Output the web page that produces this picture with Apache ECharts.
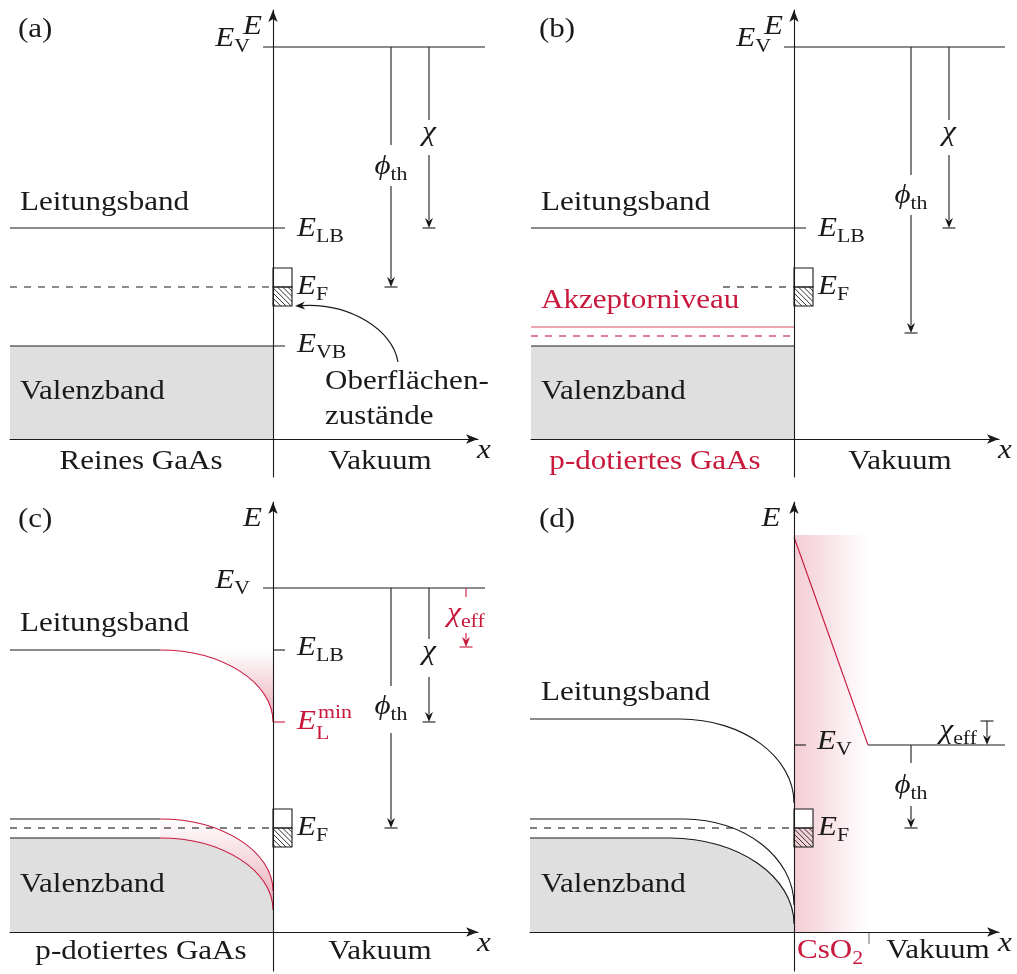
<!DOCTYPE html>
<html>
<head>
<meta charset="utf-8">
<script src="https://cdn.jsdelivr.net/npm/echarts@6/dist/echarts.min.js"></script>
<style>
  html, body { margin: 0; padding: 0; background: #fff; }
  #chart { width: 1017px; height: 974px; }
</style>
</head>
<body>
<div id="chart"></div>
<script>
// Band diagrams of a GaAs surface, four stages (a)-(d).
// x: position in arbitrary units, surface at x = 0 (bulk x < 0, vacuum x > 0).
// E: energy in arbitrary units, the x axis sits at E = 0.

// ---------- (a) pure GaAs ----------
const levelsA = [            // [x1, E1, x2, E2]
  [-1.0, 39.2, 21.2, 39.2],  // E_V
  [-26.3, 21.1, 1.2, 21.1],  // E_LB
  [-26.3, 15.2, 0, 15.2],    // E_F
  [-26.3, 9.3, 1.2, 9.3]     // E_VB
];
const levelKindsA = ['solid', 'solid', 'dash', 'solid'];
const valenceA = [-26.3, 9.3];          // [bulk edge x, band top E]
const fermiA = 15.2;
const arrowsA = [                        // [x, from E, to E]
  [11.8, 39.2, 15.2],                    // phi_th = E_V - E_F
  [15.6, 39.2, 21.1]                     // chi = E_V - E_LB
];
const statesArrowA = [[12.5, 7.7, 2.2, 13.3]];   // surface states -> box

// ---------- (b) p-doped GaAs ----------
const levelsB = [
  [-1.0, 39.2, 21.1, 39.2],  // E_V
  [-26.3, 21.1, 1.2, 21.1],  // E_LB
  [-7.1, 15.2, 0, 15.2],     // E_F
  [-26.3, 11.2, 0, 11.2],    // acceptor level
  [-26.3, 10.3, 0, 10.3],    // acceptor Fermi level
  [-26.3, 9.3, 0, 9.3]       // E_VB
];
const levelKindsB = ['solid', 'solid', 'dash', 'redLight', 'redDash', 'solid'];
const valenceB = [-26.3, 9.3];
const fermiB = 15.2;
const arrowsB = [
  [11.7, 39.2, 10.6],
  [15.5, 39.2, 21.1]
];

// ---------- (c) p-doped GaAs, bent bands ----------
const levelsC = [
  [-1.0, 34.4, 21.2, 34.4],  // E_V
  [0, 28.2, 1.2, 28.2],      // E_LB tick
  [0, 21.0, 1.2, 21.0],      // E_L^min tick
  [-26.3, 10.4, 0, 10.4]     // E_F
];
const levelKindsC = ['solid', 'solid', 'red', 'dash'];
const bandsC = [             // [bulk x, bend start x, bulk E, surface E]
  [-26.3, -11.3, 28.2, 21.0],  // conduction band edge
  [-26.3, -11.3, 11.3, 4.1],   // acceptor level
  [-26.3, -11.3, 9.4, 2.2]     // valence band edge
];
const fermiC = 10.4;
const arrowsC = [
  [11.8, 34.4, 10.4],        // phi_th
  [15.6, 34.4, 21.0],        // chi
  [19.3, 34.4, 28.5]         // chi_eff
];

// ---------- (d) with CsO2 layer ----------
const layerD = [0, 7.4, 39.7];           // [x from, x to, top E]
const levelsD = [
  [7.4, 18.7, 21.1, 18.7],   // E_V in vacuum
  [0, 18.7, 1.2, 18.7],      // E_V tick
  [-26.4, 10.4, 0, 10.4],    // E_F
  [0, 39.5, 7.4, 18.7],      // vacuum level across the layer
  [7.5, 0, 7.5, -1.2]        // layer / vacuum boundary tick
];
const levelKindsD = ['solid', 'solid', 'dash', 'red', 'gray'];
const bandsD = [
  [-26.4, -11.4, 21.3, 12.9],
  [-26.4, -11.0, 11.3, 2.7],
  [-26.4, -12.4, 9.4, 0.8]
];
const fermiD = 10.4;
const arrowsD = [
  [11.7, 18.7, 10.4],        // phi_th
  [19.3, 21.1, 18.7]         // chi_eff
];

// ---------- drawing ----------
const INK = '#1a1a1a';
const RED = '#c8183c';
const FONT = '"Liberation Serif", "DejaVu Serif", serif';
const FS = 27, FS_SCRIPT = 19, SX = 1.15;
const BEND = 0.55;

const LINE = {
  solid:    { stroke: INK, lineWidth: 1.1 },
  dash:     { stroke: INK, lineWidth: 1.1, lineDash: [7, 7] },
  red:      { stroke: RED, lineWidth: 1.1 },
  redLight: { stroke: '#e38a99', lineWidth: 1.6 },
  redDash:  { stroke: RED, lineWidth: 1.1, lineDash: [7, 7] },
  gray:     { stroke: '#777', lineWidth: 1.1 }
};

const arrowOptsA = [
  { gap: [29.4, 25.3], head: true, endBar: true },
  { gap: [31.9, 28.4], head: true, endBar: true }
];
const arrowOptsB = [
  { gap: [26.4, 22.4], head: true, endBar: true },
  { gap: [31.9, 28.4], head: true, endBar: true }
];
const arrowOptsC = [
  { gap: [24.6, 19.9], head: true, endBar: true },
  { gap: [29.3, 25.5], head: true, endBar: true },
  { gap: [33.5, 29.9], head: true, endBar: true, color: RED }
];
const arrowOptsD = [
  { gap: [16.9, 12.6], head: true, endBar: true },
  { head: true, startBar: true }
];

// text helpers
const P = t => [{ t }];
const M = (b, sub, sup) => {
  const parts = [{ t: b, it: true }];
  if (sub) parts.push({ t: sub, sub: true });
  if (sup) parts.push({ t: sup, sup: true });
  return parts;
};

const labelsA = [
  { at: [-25.5, 40.9], parts: P('(a)') },
  { at: [-2.05, 41.25], parts: M('E'), align: 'center' },
  { at: [-2.3, 40.0], parts: M('E', 'V'), align: 'right' },
  { at: [-25.3, 23.6], parts: P('Leitungsband') },
  { at: [2.4, 21.0], parts: M('E', 'LB') },
  { at: [2.4, 15.2], parts: M('E', 'F') },
  { at: [2.4, 9.4], parts: M('E', 'VB') },
  { at: [-25.3, 4.7], parts: P('Valenzband') },
  { at: [5.2, 5.7], parts: P('Oberflächen-') },
  { at: [5.2, 2.2], parts: P('zustände') },
  { at: [11.8, 27.2], parts: M('ϕ', 'th'), align: 'center' },
  { at: [15.6, 30.6], parts: M('χ'), align: 'center' },
  { at: [-13.2, -2.3], parts: P('Reines GaAs'), align: 'center' },
  { at: [10.7, -2.3], parts: P('Vakuum'), align: 'center' },
  { at: [21.1, -1.2], parts: M('x'), align: 'center' }
];
const labelsB = [
  { at: [-25.5, 40.9], parts: P('(b)') },
  { at: [-2.05, 41.25], parts: M('E'), align: 'center' },
  { at: [-2.3, 40.0], parts: M('E', 'V'), align: 'right' },
  { at: [-25.3, 23.6], parts: P('Leitungsband') },
  { at: [2.4, 21.0], parts: M('E', 'LB') },
  { at: [2.4, 15.2], parts: M('E', 'F') },
  { at: [-25.3, 13.8], parts: P('Akzeptorniveau'), color: RED },
  { at: [-25.3, 4.7], parts: P('Valenzband') },
  { at: [11.7, 24.3], parts: M('ϕ', 'th'), align: 'center' },
  { at: [15.5, 30.6], parts: M('χ'), align: 'center' },
  { at: [-13.9, -2.3], parts: P('p-dotiertes GaAs'), align: 'center', color: RED },
  { at: [10.6, -2.3], parts: P('Vakuum'), align: 'center' },
  { at: [21.1, -1.2], parts: M('x'), align: 'center' }
];
const labelsC = [
  { at: [-25.5, 41.2], parts: P('(c)') },
  { at: [-2.05, 41.3], parts: M('E'), align: 'center' },
  { at: [-2.3, 35.1], parts: M('E', 'V'), align: 'right' },
  { at: [-25.3, 30.8], parts: P('Leitungsband') },
  { at: [2.4, 28.4], parts: M('E', 'LB') },
  { at: [2.4, 21.0], parts: M('E', 'L', 'min'), color: RED },
  { at: [2.4, 10.4], parts: M('E', 'F') },
  { at: [-25.3, 4.7], parts: P('Valenzband') },
  { at: [11.8, 22.5], parts: M('ϕ', 'th'), align: 'center' },
  { at: [15.6, 28.0], parts: M('χ'), align: 'center' },
  { at: [19.3, 31.8], parts: M('χ', 'eff'), align: 'center', color: RED },
  { at: [-13.2, -2.0], parts: P('p-dotiertes GaAs'), align: 'center' },
  { at: [10.7, -2.0], parts: P('Vakuum'), align: 'center' },
  { at: [21.1, -1.2], parts: M('x'), align: 'center' }
];
const labelsD = [
  { at: [-25.5, 41.2], parts: P('(d)') },
  { at: [-2.3, 41.3], parts: M('E'), align: 'center' },
  { at: [-25.3, 23.9], parts: P('Leitungsband') },
  { at: [2.3, 19.0], parts: M('E', 'V') },
  { at: [2.4, 10.4], parts: M('E', 'F') },
  { at: [-25.3, 4.7], parts: P('Valenzband') },
  { at: [18.3, 20.1], parts: M('χ', 'eff'), align: 'right' },
  { at: [11.7, 14.6], parts: M('ϕ', 'th'), align: 'center' },
  { at: [0.3, -1.9], parts: [{ t: 'CsO' }, { t: '2', sub: true }], color: RED },
  { at: [14.4, -1.9], parts: P('Vakuum'), align: 'center' },
  { at: [21.1, -1.2], parts: M('x'), align: 'center' }
];

const measureCtx = document.createElement('canvas').getContext('2d');
function measure(t, size, italic) {
  measureCtx.font = (italic ? 'italic ' : '') + size + 'px ' + FONT;
  return measureCtx.measureText(t).width * SX;
}
function layoutParts(parts) {
  const hasSup = parts.some(p => p.sup);
  const items = [];
  let cx = 0, scriptX = null, scriptW = 0;
  for (const p of parts) {
    const script = p.sub || p.sup;
    const size = script ? FS_SCRIPT : FS;
    if (script) {
      if (scriptX === null) { scriptX = cx; scriptW = 0; }
      const dx = p.sup ? 2 : 0;
      const dy = p.sup ? -9 : (hasSup ? 12 : 8);
      items.push({ t: p.t, it: p.it, size, x: scriptX + dx, dy });
      scriptW = Math.max(scriptW, dx + measure(p.t, size, p.it));
      cx = scriptX + scriptW;
    } else {
      scriptX = null;
      items.push({ t: p.t, it: p.it, size, x: cx, dy: 0 });
      cx += measure(p.t, size, p.it);
    }
  }
  return { items, width: cx };
}

const line = (x1, y1, x2, y2, style) => ({ type: 'line', shape: { x1, y1, x2, y2 }, style });
const base = p => ({ type: 'custom', xAxisIndex: p, yAxisIndex: p, silent: true, clip: false, animation: false });

function segmentSeries(p, data, kinds) {
  return Object.assign(base(p), {
    z: 3, data,
    renderItem(params, api) {
      const a = api.coord([api.value(0), api.value(1)]);
      const b = api.coord([api.value(2), api.value(3)]);
      return line(a[0], a[1], b[0], b[1], LINE[kinds[params.dataIndex]]);
    }
  });
}

function bend(api, b) {
  const A = api.coord([b[0], b[2]]), B = api.coord([b[1], b[2]]), C = api.coord([0, b[3]]);
  const c1 = [B[0] + BEND * (C[0] - B[0]), B[1]];
  const c2 = [C[0], C[1] + BEND * (B[1] - C[1])];
  return { A, B, C, c1, c2 };
}
const pt = q => q[0] + ' ' + q[1];

function bandSeries(p, data, curveKind) {
  return Object.assign(base(p), {
    z: 3, data,
    renderItem(params, api) {
      const g = bend(api, [api.value(0), api.value(1), api.value(2), api.value(3)]);
      return { type: 'group', children: [
        line(g.A[0], g.A[1], g.B[0], g.B[1], LINE.solid),
        { type: 'bezierCurve', shape: { x1: g.B[0], y1: g.B[1], cpx1: g.c1[0], cpy1: g.c1[1],
          cpx2: g.c2[0], cpy2: g.c2[1], x2: g.C[0], y2: g.C[1] },
          style: Object.assign({ fill: null }, LINE[curveKind]) }
      ] };
    }
  });
}

function fillSeries(p, build) {
  return Object.assign(base(p), { z: 1, data: [[0, 0]], renderItem: (params, api) => ({ type: 'group', children: build(api) }) });
}

const GRAY = '#dfdfdf';
const pinkDown = () => new echarts.graphic.LinearGradient(0, 0, 0, 1, [
  { offset: 0, color: 'rgba(200,24,60,0)' }, { offset: 1, color: 'rgba(200,24,60,0.38)' }]);

function rectValence(v) {
  return api => {
    const a = api.coord([v[0], v[1]]), b = api.coord([0, 0]);
    return [{ type: 'rect', shape: { x: a[0], y: a[1], width: b[0] - a[0], height: b[1] - a[1] }, style: { fill: GRAY } }];
  };
}
function bentValence(vb) {
  return api => {
    const g = bend(api, vb), y0 = api.coord([0, 0])[1];
    return [{ type: 'path', shape: { pathData:
      'M ' + g.A[0] + ' ' + y0 + ' L ' + pt(g.A) + ' L ' + pt(g.B) + ' C ' + pt(g.c1) + ' ' + pt(g.c2) + ' ' + pt(g.C) +
      ' L ' + g.C[0] + ' ' + y0 + ' Z' }, style: { fill: GRAY } }];
  };
}

function arrowSeries(p, data, opts) {
  return Object.assign(base(p), {
    z: 4, data,
    renderItem(params, api) {
      const o = opts[params.dataIndex];
      const x = api.value(0);
      const a = api.coord([x, api.value(1)]), b = api.coord([x, api.value(2)]);
      const col = o.color || INK;
      const st = { stroke: col, lineWidth: 1.1 };
      const HL = 10, HW = 4, BW = 6.5;
      const yEnd = b[1] - (o.head ? HL - 2 : 0);
      const kids = [];
      if (o.gap) {
        const g1 = api.coord([x, o.gap[0]])[1], g2 = api.coord([x, o.gap[1]])[1];
        kids.push(line(a[0], a[1], a[0], g1, st), line(a[0], g2, a[0], yEnd, st));
      } else {
        kids.push(line(a[0], a[1], a[0], yEnd, st));
      }
      if (o.head) kids.push({ type: 'polygon', shape: { points: [[b[0], b[1]], [b[0] - HW, b[1] - HL],
        [b[0], b[1] - HL + 3], [b[0] + HW, b[1] - HL]] }, style: { fill: col } });
      if (o.endBar) kids.push(line(b[0] - BW, b[1], b[0] + BW, b[1], st));
      if (o.startBar) kids.push(line(a[0] - BW, a[1], a[0] + BW, a[1], st));
      return { type: 'group', children: kids };
    }
  });
}

function fermiBoxSeries(p, ef) {
  return Object.assign(base(p), {
    z: 5, data: [[0, ef]],
    renderItem(params, api) {
      const c = api.coord([api.value(0), api.value(1)]);
      const L = c[0], Mid = c[1], W = 19, H = 19, step = 5.2;
      const kids = [
        { type: 'rect', shape: { x: L, y: Mid - H, width: W, height: H }, style: { fill: '#fff', stroke: INK, lineWidth: 1.1 } }
      ];
      for (let k = -H + step / 2; k < W; k += step) {
        const u1 = Math.max(0, k), u2 = Math.min(W, H + k);
        if (u2 - u1 > 0.5) kids.push(line(L + u1, Mid + u1 - k, L + u2, Mid + u2 - k, { stroke: INK, lineWidth: 0.9 }));
      }
      kids.push({ type: 'rect', shape: { x: L, y: Mid, width: W, height: H }, style: { fill: null, stroke: INK, lineWidth: 1.1 } });
      return { type: 'group', children: kids };
    }
  });
}

function curvedArrowSeries(p, data) {
  return Object.assign(base(p), {
    z: 4, data,
    renderItem(params, api) {
      const S = api.coord([api.value(0), api.value(1)]), T = api.coord([api.value(2), api.value(3)]);
      const c1 = [S[0] - 5, S[1] - 32], c2 = [T[0] + 55, T[1] - 3];
      const dx = T[0] - c2[0], dy = T[1] - c2[1], n = Math.hypot(dx, dy);
      const ux = dx / n, uy = dy / n, HL = 10, HW = 4;
      const bx = T[0] - ux * HL, by = T[1] - uy * HL;
      const nx = T[0] - ux * (HL - 3), ny = T[1] - uy * (HL - 3);
      return { type: 'group', children: [
        { type: 'bezierCurve', shape: { x1: S[0], y1: S[1], cpx1: c1[0], cpy1: c1[1], cpx2: c2[0], cpy2: c2[1],
          x2: nx, y2: ny }, style: { stroke: INK, lineWidth: 1.2, fill: null } },
        { type: 'polygon', shape: { points: [[T[0], T[1]], [bx - uy * HW, by + ux * HW], [nx, ny], [bx + uy * HW, by - ux * HW]] },
          style: { fill: INK } }
      ] };
    }
  });
}

function labelSeries(p, labels) {
  return Object.assign(base(p), {
    z: 6, data: labels.map(l => l.at),
    renderItem(params, api) {
      const l = labels[params.dataIndex];
      const c = api.coord([api.value(0), api.value(1)]);
      const lay = layoutParts(l.parts);
      const x0 = c[0] - (l.align === 'center' ? lay.width / 2 : l.align === 'right' ? lay.width : 0);
      return { type: 'group', children: lay.items.map(it => ({
        type: 'text', x: x0 + it.x, y: c[1] + it.dy, scaleX: SX,
        style: { text: it.t, fontFamily: FONT, fontSize: it.size, fontStyle: it.it ? 'italic' : 'normal',
          fill: l.color || INK, align: 'left', verticalAlign: 'middle' }
      })) };
    }
  });
}

// panel frames
const grids = [
  { left: 10, top: 10, width: 468, height: 467 },
  { left: 531, top: 10, width: 468, height: 467 },
  { left: 10, top: 502, width: 468, height: 469 },
  { left: 530, top: 502, width: 469, height: 469 }
];
const xRanges = [[-26.3, 20.5], [-26.3, 20.5], [-26.3, 20.5], [-26.4, 20.5]];
const yRanges = [[-3.8, 42.9], [-3.8, 42.9], [-3.9, 43.0], [-3.9, 43.0]];

const axisCommon = i => ({
  gridIndex: i, type: 'value', z: 8,
  axisLine: { show: true, onZero: true, symbol: ['none', 'arrow'], symbolSize: [7, 12], lineStyle: { color: INK, width: 1.1 } },
  axisTick: { show: false }, axisLabel: { show: false }, splitLine: { show: false }
});

const series = [
  // (a)
  fillSeries(0, rectValence(valenceA)),
  segmentSeries(0, levelsA, levelKindsA),
  arrowSeries(0, arrowsA, arrowOptsA),
  fermiBoxSeries(0, fermiA),
  curvedArrowSeries(0, statesArrowA),
  labelSeries(0, labelsA),
  // (b)
  fillSeries(1, rectValence(valenceB)),
  segmentSeries(1, levelsB, levelKindsB),
  arrowSeries(1, arrowsB, arrowOptsB),
  fermiBoxSeries(1, fermiB),
  labelSeries(1, labelsB),
  // (c)
  fillSeries(2, api => {
    const out = bentValence(bandsC[2])(api);
    const cb = bend(api, bandsC[0]);
    out.push({ type: 'path', shape: { pathData: 'M ' + pt(cb.B) + ' C ' + pt(cb.c1) + ' ' + pt(cb.c2) + ' ' + pt(cb.C) +
      ' L ' + cb.C[0] + ' ' + cb.B[1] + ' Z' }, style: { fill: pinkDown() } });
    const u = bend(api, bandsC[1]), w = bend(api, bandsC[2]);
    out.push({ type: 'path', shape: { pathData: 'M ' + pt(u.B) + ' C ' + pt(u.c1) + ' ' + pt(u.c2) + ' ' + pt(u.C) +
      ' L ' + pt(w.C) + ' C ' + pt(w.c2) + ' ' + pt(w.c1) + ' ' + pt(w.B) + ' Z' }, style: { fill: pinkDown() } });
    return out;
  }),
  bandSeries(2, bandsC, 'red'),
  segmentSeries(2, levelsC, levelKindsC),
  arrowSeries(2, arrowsC, arrowOptsC),
  fermiBoxSeries(2, fermiC),
  labelSeries(2, labelsC),
  // (d)
  fillSeries(3, api => {
    const out = bentValence(bandsD[2])(api);
    const a = api.coord([layerD[0], layerD[2]]), b = api.coord([layerD[1], 0]);
    out.push({ type: 'rect', shape: { x: a[0], y: a[1], width: b[0] - a[0], height: b[1] - a[1] },
      style: { fill: new echarts.graphic.LinearGradient(0, 0, 1, 0, [
        { offset: 0, color: 'rgba(200,24,60,0.22)' }, { offset: 1, color: 'rgba(200,24,60,0)' }]) } });
    return out;
  }),
  bandSeries(3, bandsD, 'solid'),
  segmentSeries(3, levelsD, levelKindsD),
  arrowSeries(3, arrowsD, arrowOptsD),
  fermiBoxSeries(3, fermiD),
  labelSeries(3, labelsD)
];

const chart = echarts.init(document.getElementById('chart'), null, { renderer: 'canvas' });
chart.setOption({
  backgroundColor: '#fff',
  animation: false,
  grid: grids,
  xAxis: grids.map((g, i) => Object.assign(axisCommon(i), { min: xRanges[i][0], max: xRanges[i][1] })),
  yAxis: grids.map((g, i) => Object.assign(axisCommon(i), { min: yRanges[i][0], max: yRanges[i][1] })),
  series
});
</script>
</body>
</html>
